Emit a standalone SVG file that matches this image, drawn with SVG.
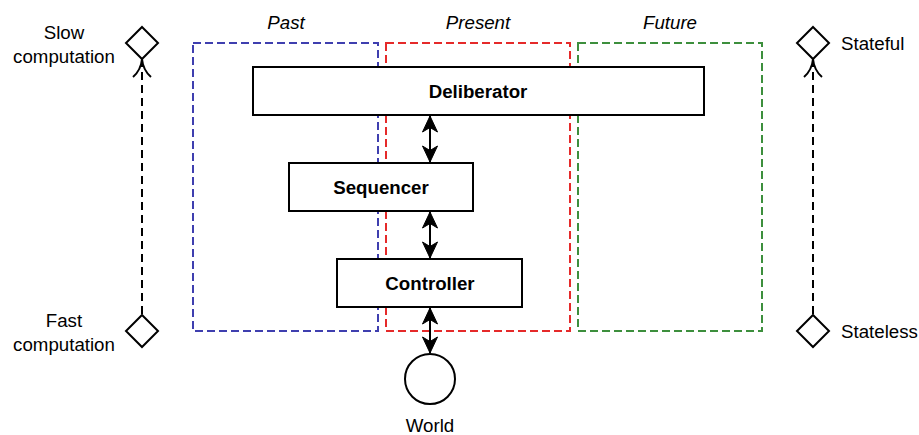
<svg xmlns="http://www.w3.org/2000/svg" width="919" height="435" viewBox="0 0 919 435">
<defs>
<style>
text{font-family:"Liberation Sans",Arial,sans-serif;font-size:18.7px;fill:#000;}
.b{font-weight:bold;text-anchor:middle;}
.i{font-style:italic;text-anchor:middle;}
.m{text-anchor:middle;}
.box{fill:#fff;stroke:#000;stroke-width:2;}
.zone{fill:none;stroke-width:2;stroke-dasharray:8 4;}
.dia{fill:#fff;stroke:#000;stroke-width:2;}
.dl{fill:none;stroke:#000;stroke-width:2;stroke-dasharray:8 5;}
.ah{fill:none;stroke:#000;stroke-width:2;}
.con{stroke:#000;stroke-width:2;fill:none;}
</style>
<marker id="cl" viewBox="0 0 18 18" refX="17" refY="9" markerWidth="18" markerHeight="18" markerUnits="userSpaceOnUse" orient="auto-start-reverse">
<path d="M17,9 L1,1.5 L5.5,9 L1,16.5 Z" fill="#000" stroke="#000" stroke-width="1"/>
</marker>
</defs>
<g id="zones">
<g id="past"><rect class="zone" x="193" y="43" width="185" height="288" stroke="#3F3FAF"/><text class="i" x="286" y="29">Past</text></g>
<g id="present"><rect class="zone" x="386" y="43" width="184" height="288" stroke="#E52A2A"/><text class="i" x="478" y="29">Present</text></g>
<g id="future"><rect class="zone" x="578" y="43" width="184" height="288" stroke="#3D8F3D"/><text class="i" x="670" y="29">Future</text></g>
</g>
<g id="connectors">
<line class="con" x1="430" y1="116" x2="430" y2="162" marker-start="url(#cl)" marker-end="url(#cl)"/>
<line class="con" x1="430" y1="212" x2="430" y2="258" marker-start="url(#cl)" marker-end="url(#cl)"/>
<line class="con" x1="430" y1="308" x2="430" y2="353" marker-start="url(#cl)" marker-end="url(#cl)"/>
<line class="dl" x1="142" y1="314" x2="142" y2="61"/>
<path class="ah" d="M133,77 Q141,70 142,59 Q143,70 151,77"/>
<line class="dl" x1="813" y1="314" x2="813" y2="61"/>
<path class="ah" d="M804,77 Q812,70 813,59 Q814,70 822,77"/>
</g>
<g id="deliberator"><rect class="box" x="253" y="67" width="451" height="48"/><text class="b" x="478" y="98">Deliberator</text></g>
<g id="sequencer"><rect class="box" x="289" y="163" width="184" height="48"/><text class="b" x="381" y="194">Sequencer</text></g>
<g id="controller"><rect class="box" x="337" y="259" width="185" height="48"/><text class="b" x="430" y="290">Controller</text></g>
<g id="world"><circle cx="430" cy="379" r="25" fill="#fff" stroke="#000" stroke-width="2"/><text class="m" x="430" y="432">World</text></g>
<g id="slow"><path class="dia" d="M142,27 L158,43 L142,59 L126,43 Z"/><text class="m" x="64" y="39">Slow</text><text class="m" x="64" y="63">computation</text></g>
<g id="fast"><path class="dia" d="M142,315 L158,331 L142,347 L126,331 Z"/><text class="m" x="64" y="327">Fast</text><text class="m" x="64" y="351">computation</text></g>
<g id="stateful"><path class="dia" d="M813,27 L829,43 L813,59 L797,43 Z"/><text x="841" y="50">Stateful</text></g>
<g id="stateless"><path class="dia" d="M813,315 L829,331 L813,347 L797,331 Z"/><text x="841" y="338">Stateless</text></g>
</svg>
